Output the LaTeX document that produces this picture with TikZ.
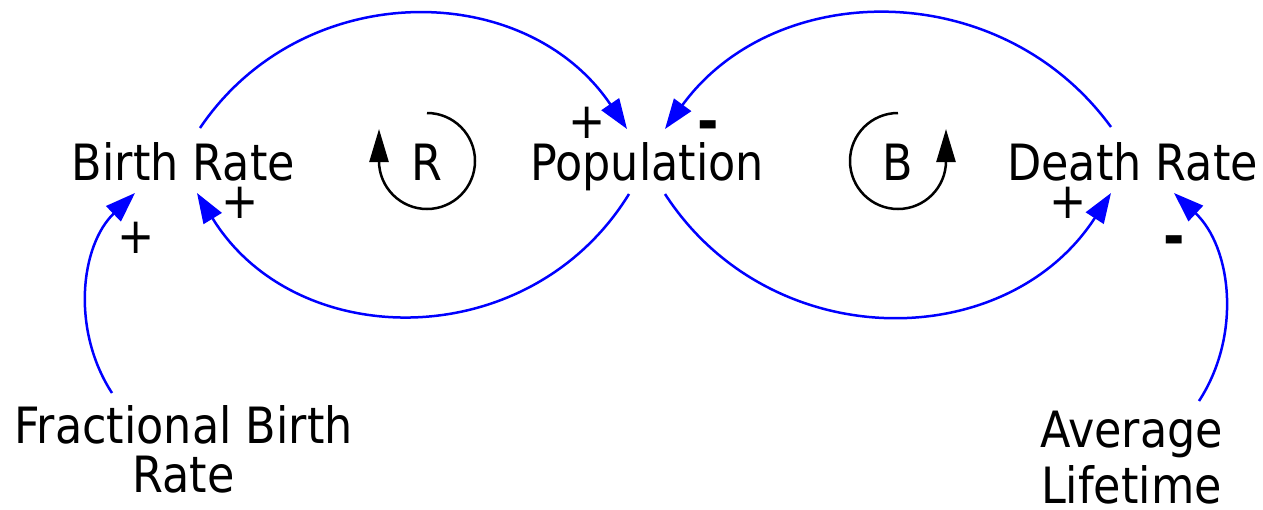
\documentclass[tikz,border=0pt]{standalone}
\usepackage{fontspec}
\setmainfont{DejaVu Sans}[FakeStretch=0.89]
\usetikzlibrary{arrows.meta}
\begin{document}
\begin{tikzpicture}[x=1pt,y=-1pt,
  lbl/.style={inner sep=0pt, font=\fontsize{50}{55}\selectfont},
  sgn/.style={inner sep=0pt, font=\fontsize{50}{55}\selectfont},
  neg/.style={inner sep=0pt, font=\fontsize{58}{60}\selectfont\bfseries},
  link/.style={draw=blue, line width=2.5pt, -{Triangle[length=30pt,width=21pt]}},
  loopline/.style={draw=black, line width=2.5pt, -{Triangle[length=33pt,width=19pt]}}]
\useasboundingbox (0,0) rectangle (1263,509);
% variables
\node[lbl, anchor=base] (br) at (183.5,180) {Birth Rate};
\node[lbl, anchor=base] (pop) at (647,180) {Population};
\node[lbl, anchor=base] (dr) at (1132.5,180) {Death Rate};
\node[lbl, anchor=north, align=center, font=\fontsize{50}{49}\selectfont] (fbr) at (183.5,405) {Fractional Birth\\Rate};
\node[lbl, anchor=north, align=center, font=\fontsize{50}{56}\selectfont] (al) at (1131.5,411) {Average\\Lifetime};
% loop identifiers
\node[lbl, anchor=base] (rl) at (427,180) {R};
\node[lbl, anchor=base] (bl) at (898,180) {B};
\draw[loopline] ([shift={(0,-48)}]rl.base |- 0,161) arc[start angle=270, end angle=540, radius=48] -- ++(0,-32);
\draw[loopline] ([shift={(0,-48)}]bl.base |- 0,161) arc[start angle=270, end angle=0, radius=48] -- ++(0,-32);
% links
\draw[link] ([shift={(16.5,-52)}]br.base) .. controls (302,-23) and (525,-22) .. ([shift={(-20,-51)}]pop.base);
\draw[link] ([shift={(-21.5,-53)}]dr.base) .. controls (1001,-24) and (775,-22) .. ([shift={(18,-51)}]pop.base);
\draw[link] ([shift={(-18,14)}]pop.base) .. controls (530,355) and (296,354) .. ([shift={(13.5,13)}]br.base);
\draw[link] ([shift={(18,14)}]pop.base) .. controls (770,356) and (1006,355) .. ([shift={(-21.5,13)}]dr.base);
\draw[link] ([shift={(-71.5,-12)}]fbr.north) .. controls (70.8,329.5) and (80.5,245.5) .. ([shift={(-48.5,13)}]br.base);
\draw[link] ([shift={(67.5,-10)}]al.north) .. controls (1242,335) and (1231.5,247) .. ([shift={(41.5,13)}]dr.base);
% polarities
\node[sgn] (s1) at (587,123) {+};
\node[neg] (s2) at (708,131) {-};
\node[sgn] (s3) at (240,203) {+};
\node[sgn] (s4) at (136,238) {+};
\node[sgn] (s5) at (1068,203) {+};
\node[neg] (s6) at (1174,246) {-};
\end{tikzpicture}
\end{document}
